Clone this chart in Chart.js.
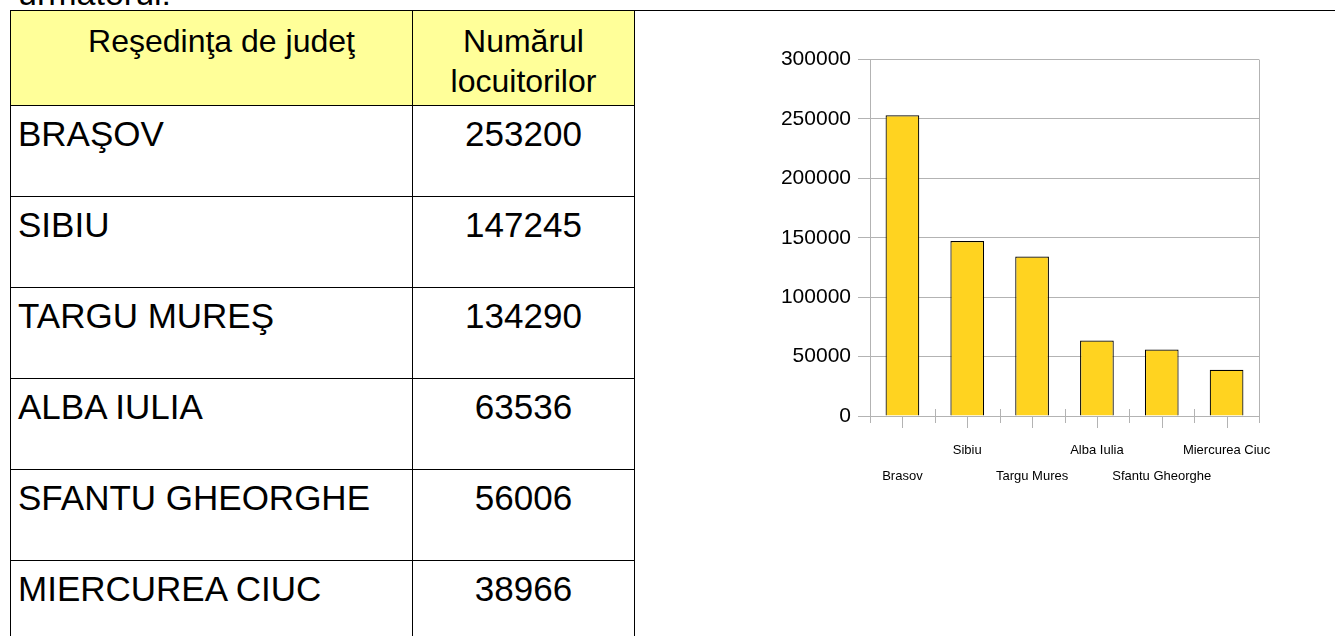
<!DOCTYPE html>
<html>
<head>
<meta charset="utf-8">
<script src="https://cdn.jsdelivr.net/npm/chart.js@4.4.1/dist/chart.umd.min.js"></script>
<style>
    html, body { margin: 0; padding: 0; background: #fff; overflow: hidden; }
    body { width: 1335px; height: 636px; position: relative; font-family: "Liberation Sans", Arial, sans-serif; color: #000; }
    #intro { position: absolute; left: 18px; top: -27px; font-size: 34px; line-height: 40px; }
    #tabel { position: absolute; left: 10px; top: 10px; border-collapse: collapse; table-layout: fixed; font-size: 35px; line-height: 40px; }
    #tabel td, #tabel th { border: 1px solid #000; vertical-align: top; font-weight: normal; padding: 0; }
    #tabel th { background: #ffff99; height: 84px; padding-top: 10px; text-align: center; font-size: 32px; }
    #tabel th.h1 { padding-left: 20px; }
    #tabel td { height: 82px; padding-top: 8px; }
    #tabel td.nume { padding-left: 7px; }
    #tabel td.nr { text-align: center; }
    #col3 { position: absolute; left: 634px; top: 10px; width: 720px; height: 640px; border-top: 1px solid #000; }
    #wrap { position: absolute; left: 760px; top: 40px; width: 575px; height: 460px; }
</style>
</head>
<body>
<div id="intro">următorul:</div>
<div id="col3"></div>
<table id="tabel">
    <colgroup><col style="width:402px"><col style="width:222px"></colgroup>
    <thead>
        <tr><th class="h1">Reşedinţa de judeţ</th><th>Numărul<br>locuitorilor</th></tr>
    </thead>
    <tbody id="randuri"></tbody>
</table>
<div id="wrap"><canvas id="grafic" width="575" height="460"></canvas></div>

<script>
// date
const orase = ['BRAŞOV', 'SIBIU', 'TARGU MUREŞ', 'ALBA IULIA', 'SFANTU GHEORGHE', 'MIERCUREA CIUC'];
const etichete = ['Brasov', 'Sibiu', 'Targu Mures', 'Alba Iulia', 'Sfantu Gheorghe', 'Miercurea Ciuc'];
const locuitori = [253200, 147245, 134290, 63536, 56006, 38966];
const yTicks = [0, 50000, 100000, 150000, 200000, 250000, 300000];

// tabelul
document.getElementById('randuri').innerHTML = orase.map((o, i) => `
    <tr><td class="nume">${o}</td><td class="nr">${locuitori[i]}</td></tr>
`).join('');

const gri = '#b3b3b3';

// liniuțe pe axa X + chenarul din dreapta
const liniute = {
    id: 'liniute',
    afterDraw(chart) {
        const { ctx, chartArea } = chart;
        const x = chart.scales.x;
        const yb = chartArea.bottom;
        ctx.save();
        ctx.strokeStyle = gri;
        ctx.lineWidth = 1;
        ctx.beginPath();
        for (let i = 0; i < etichete.length; i++) {
            const c = Math.round(x.getPixelForValue(i)) + 0.5;
            ctx.moveTo(c, yb);
            ctx.lineTo(c, yb + 12);
        }
        for (let i = 0; i <= etichete.length; i++) {
            const b = Math.round(x.getPixelForValue(i - 0.5)) + 0.5;
            ctx.moveTo(b, yb - 7);
            ctx.lineTo(b, yb + 7);
        }
        const r = Math.round(chartArea.right) + 0.5;
        ctx.moveTo(r, chartArea.top);
        ctx.lineTo(r, yb);
        ctx.stroke();
        ctx.restore();
    }
};

new Chart(document.getElementById('grafic').getContext('2d'), {
    type: 'bar',
    data: {
        // etichete pe două rânduri, alternativ
        labels: etichete.map((e, i) => i % 2 === 0 ? ['', e] : [e, '']),
        datasets: [{
            data: locuitori,
            backgroundColor: '#ffd320',
            borderColor: '#000',
            borderWidth: 1.2,
            barPercentage: 0.52,
            categoryPercentage: 1
        }]
    },
    options: {
        responsive: false,
        animation: false,
        events: [],
        layout: { padding: { top: 19, right: 76, bottom: 0, left: 0 } },
        plugins: { legend: { display: false }, tooltip: { enabled: false } },
        scales: {
            x: {
                grid: { display: false },
                border: { display: true, color: gri },
                ticks: {
                    color: '#000',
                    padding: 13,
                    maxRotation: 0,
                    autoSkip: false,
                    font: { family: '"Liberation Sans", Arial', size: 13, lineHeight: '26px' }
                },
                afterFit(s) { s.height = 84; }
            },
            y: {
                min: 0,
                max: 300000,
                afterBuildTicks(s) { s.ticks = yTicks.map(v => ({ value: v })); },
                grid: { color: gri, tickLength: 12 },
                border: { color: gri },
                ticks: {
                    color: '#000',
                    padding: 7,
                    font: { family: '"Liberation Sans", Arial', size: 21 },
                    callback: v => String(v)
                },
                afterFit(s) { s.width = 110; }
            }
        }
    },
    plugins: [liniute]
});
</script>
</body>
</html>
